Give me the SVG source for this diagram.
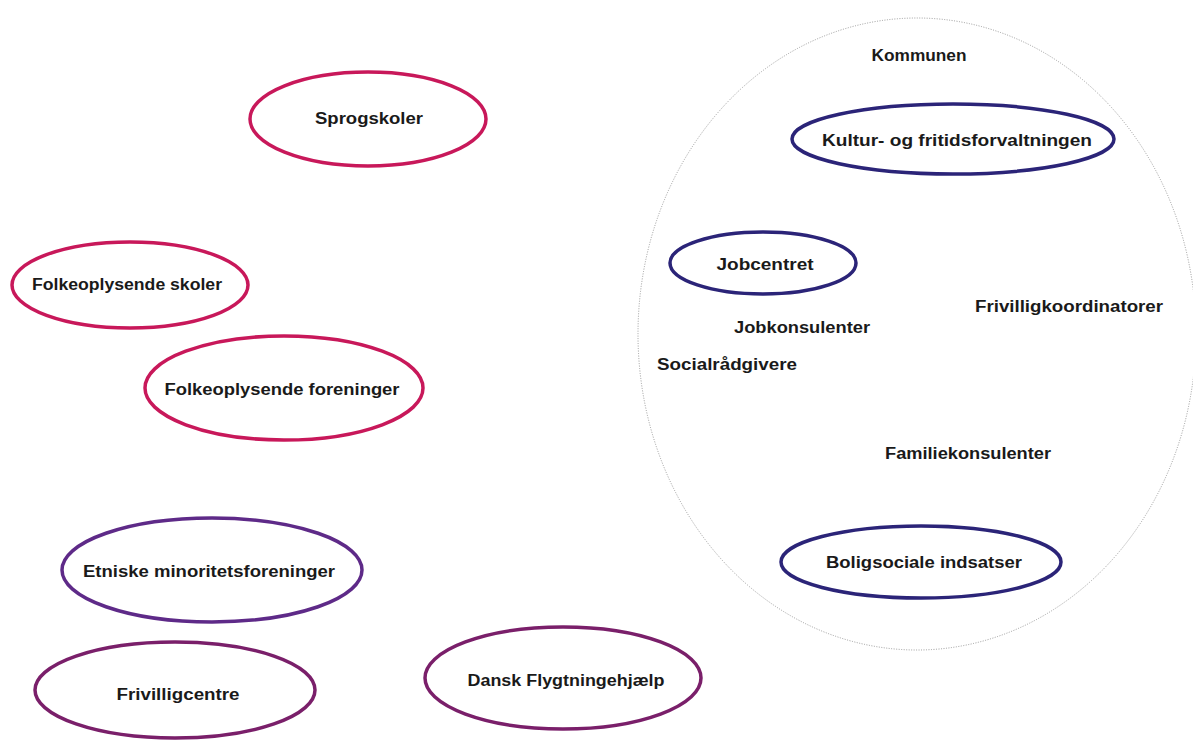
<svg xmlns="http://www.w3.org/2000/svg" width="1193" height="740" viewBox="0 0 1193 740">
<style>
.bg{fill:#ffffff}
.t{font-family:"Liberation Sans",Arial,sans-serif;font-size:16px;font-weight:bold;fill:#1a1a1a;text-anchor:middle;dominant-baseline:central}
.red{fill:none;stroke:#c8185a;stroke-width:3.5}
.pur{fill:none;stroke:#5e2a88;stroke-width:3.5}
.plum{fill:none;stroke:#7a1f6a;stroke-width:3.5}
.navy{fill:none;stroke:#2b2478;stroke-width:3.5}
.dot{fill:none;stroke:#9a9a9a;stroke-width:1;stroke-dasharray:1 1.5}
</style>
<rect class="bg" x="0" y="0" width="1193" height="740"/>
<g id="connectors"/>
<g id="kommunen">
<ellipse class="dot" cx="917" cy="334" rx="279" ry="316"/>
<text class="t" x="919" y="55" textLength="95" lengthAdjust="spacingAndGlyphs">Kommunen</text>
</g>
<g id="sprogskoler">
<ellipse class="red" cx="368" cy="119" rx="118" ry="47"/>
<text class="t" x="369" y="118" textLength="108" lengthAdjust="spacingAndGlyphs">Sprogskoler</text>
</g>
<g id="folkeoplysende-skoler">
<ellipse class="red" cx="130" cy="285" rx="118" ry="43"/>
<text class="t" x="127" y="284" textLength="190" lengthAdjust="spacingAndGlyphs">Folkeoplysende skoler</text>
</g>
<g id="folkeoplysende-foreninger">
<ellipse class="red" cx="284" cy="388" rx="139" ry="52"/>
<text class="t" x="282" y="389" textLength="235" lengthAdjust="spacingAndGlyphs">Folkeoplysende foreninger</text>
</g>
<g id="etniske">
<ellipse class="pur" cx="212" cy="570" rx="150" ry="52"/>
<text class="t" x="209" y="571" textLength="252" lengthAdjust="spacingAndGlyphs">Etniske minoritetsforeninger</text>
</g>
<g id="frivilligcentre">
<ellipse class="plum" cx="175" cy="690" rx="140" ry="48"/>
<text class="t" x="178" y="694" textLength="123" lengthAdjust="spacingAndGlyphs">Frivilligcentre</text>
</g>
<g id="dansk-flygtningehjaelp">
<ellipse class="plum" cx="563" cy="678" rx="138" ry="51"/>
<text class="t" x="566" y="680" textLength="197" lengthAdjust="spacingAndGlyphs">Dansk Flygtningehjælp</text>
</g>
<g id="kultur">
<ellipse class="navy" cx="953" cy="139" rx="161" ry="35"/>
<text class="t" x="957" y="140" textLength="270" lengthAdjust="spacingAndGlyphs">Kultur- og fritidsforvaltningen</text>
</g>
<g id="jobcentret">
<ellipse class="navy" cx="763" cy="263" rx="93" ry="31"/>
<text class="t" x="765" y="264" textLength="97" lengthAdjust="spacingAndGlyphs">Jobcentret</text>
</g>
<g id="jobkonsulenter">
<text class="t" x="802" y="327" textLength="136" lengthAdjust="spacingAndGlyphs">Jobkonsulenter</text>
</g>
<g id="socialraadgivere">
<text class="t" x="727" y="364" textLength="140" lengthAdjust="spacingAndGlyphs">Socialrådgivere</text>
</g>
<g id="frivilligkoordinatorer">
<text class="t" x="1069" y="306" textLength="188" lengthAdjust="spacingAndGlyphs">Frivilligkoordinatorer</text>
</g>
<g id="familiekonsulenter">
<text class="t" x="968" y="453" textLength="166" lengthAdjust="spacingAndGlyphs">Familiekonsulenter</text>
</g>
<g id="boligsociale">
<ellipse class="navy" cx="921" cy="562" rx="140" ry="36"/>
<text class="t" x="924" y="562" textLength="196" lengthAdjust="spacingAndGlyphs">Boligsociale indsatser</text>
</g>
</svg>
